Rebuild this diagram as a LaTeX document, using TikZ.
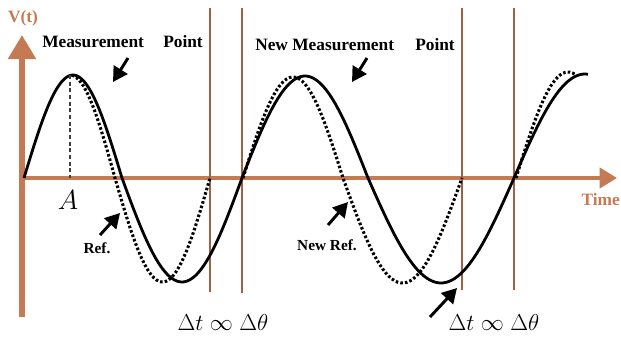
\documentclass[tikz,border=0pt]{standalone}
\usepackage{fontspec}
\setmainfont{Liberation Serif}
\usetikzlibrary{arrows.meta}

\definecolor{axisbrown}{RGB}{196,122,82}
\definecolor{markbrown}{RGB}{160,98,66}

\tikzset{
  wave/.style={black, line width=2.1pt, line join=round},
  refwave/.style={black, line width=2.3pt, dash pattern=on 1.9pt off 1.6pt},
  marker/.style={markbrown, line width=1.5pt},
  pointer/.style={-{Triangle[length=11pt,width=12pt]}, line width=2.2pt},
  lbl/.style={font=\bfseries\fontsize{13}{15}\selectfont, inner sep=0pt},
  reflbl/.style={font=\bfseries\fontsize{11.5}{14}\selectfont, inner sep=0pt},
  axlbl/.style={lbl, text=axisbrown},
  mathlbl/.style={font=\fontsize{19}{22}\selectfont, inner sep=0pt},
}

\begin{document}
\begin{tikzpicture}[x=0.75pt, y=-0.75pt]
\useasboundingbox (0,0) rectangle (621,336);

% axes
\coordinate (o) at (22,178);
\coordinate (ytop) at (22,35);
\coordinate (ybot) at (22,317);
\coordinate (xend) at (617,178);
\draw[axisbrown, line width=3pt, -{Triangle[length=13pt,width=15pt]}] (o) -- (xend);
\draw[axisbrown, line width=4.5pt, -{Triangle[length=18pt,width=20pt]}] (ybot) -- (ytop);
\node[axlbl] (vt) at (23,18) {V(t)};
\node[axlbl, anchor=east] (time) at (620,200) {Time};

% measurement markers
\foreach \mx/\bot in {210/292, 242/293, 462/290, 514/290} {
  \draw[marker] (\mx,8) -- (\mx,\bot);
}

% measured signal
\draw[wave]
  plot[domain=24:122, samples=40] (\x, {178-103*sin((\x-24)/98*180)})
  -- plot[domain=122:242, samples=40] (\x, {178+104*sin((\x-122)/120*180)})
  -- plot[domain=242:368, samples=40] (\x, {178-102*sin((\x-242)/126*180)})
  -- plot[domain=368:514, samples=40] (\x, {178+105*sin((\x-368)/146*180)})
  -- plot[domain=514:588, samples=30] (\x, {178-104*sin((\x-514)/142*180)});

% reference signal
\draw[refwave]
  plot[domain=72:115, samples=20] (\x, {178-103*sin((\x-25)/90*180)})
  -- plot[domain=115:210, samples=40] (\x, {178+104*sin((\x-115)/95*180)});
\draw[refwave]
  plot[domain=243:343, samples=40] (\x, {178-101*sin((\x-243)/100*180)})
  -- plot[domain=343:462, samples=40] (\x, {178+105*sin((\x-343)/119*180)});
\draw[refwave]
  plot[domain=516:575, samples=25] (\x, {178-106*sin((\x-516)/104*180)});

% point A
\coordinate (pk) at (70,75);
\draw[black!75, line width=1.8pt, dash pattern=on 3pt off 2pt] (pk) -- (pk |- o);
\node[font=\fontsize{21}{24}\selectfont, inner sep=0pt] (a) at (68,200) {$A$};

% labels
\node[lbl, anchor=west] (meas) at (42,42) {Measurement};
\node[lbl, anchor=west] (pt) at (163,42) {Point};
\node[lbl, anchor=west] (newmeas) at (255,45) {New Measurement};
\node[lbl, anchor=west] (newpt) at (415,45) {Point};
\node[reflbl] (ref) at (97,248) {Ref.};
\node[reflbl] (newref) at (327,245) {New Ref.};
\node[mathlbl] (dt) at (223,322) {$\Delta t \mathrel{\infty} \Delta\theta$};
\node[mathlbl] (newdt) at (494,322) {$\Delta t \mathrel{\infty} \Delta\theta$};

% pointers
\coordinate (m1s) at (128,58);
\coordinate (m1e) at (113,82);
\coordinate (m2s) at (367,58);
\coordinate (m2e) at (352,82);
\coordinate (r1s) at (100,235);
\coordinate (r1e) at (120,213);
\coordinate (r2s) at (328,225);
\coordinate (r2e) at (348,202);
\coordinate (d2s) at (430,317);
\coordinate (d2e) at (457,288);
\draw[pointer] (m1s) -- (m1e);
\draw[pointer] (m2s) -- (m2e);
\draw[pointer] (r1s) -- (r1e);
\draw[pointer] (r2s) -- (r2e);
\draw[pointer] (d2s) -- (d2e);
\end{tikzpicture}
\end{document}
